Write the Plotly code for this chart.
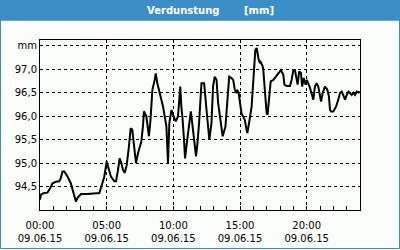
import plotly.graph_objects as go

# data: hours after 09.06.15 00:00 and evaporation values [mm]
hours = [0.00, 0.08, 0.30, 0.56, 0.77, 0.94, 1.19, 1.44, 1.56, 1.69, 1.82, 2.07, 2.31, 2.52, 2.69, 2.82,
         3.07, 3.57, 4.19, 4.45, 4.57, 4.70, 4.82, 5.00, 5.15, 5.32, 5.57, 5.70, 5.85, 5.97, 6.10, 6.22,
         6.35, 6.50, 6.65, 6.80, 6.92, 7.05, 7.20, 7.35, 7.60, 7.72, 7.80, 7.98, 8.17, 8.28, 8.43, 8.60,
         8.68, 8.80, 8.98, 9.23, 9.48, 9.60, 9.70, 9.86, 10.03, 10.18, 10.35, 10.52, 10.60, 10.68, 10.80,
         10.88, 10.98, 11.16, 11.31, 11.40, 11.55, 11.70, 11.81, 11.93, 12.11, 12.31, 12.49, 12.61, 12.70,
         12.86, 12.98, 13.10, 13.24, 13.36, 13.56, 13.70, 13.91, 14.06, 14.19, 14.36, 14.49, 14.61, 14.74,
         14.80, 14.90, 15.11, 15.23, 15.36, 15.49, 15.55, 15.70, 15.87, 16.02, 16.15, 16.25, 16.40, 16.50,
         16.55, 16.70, 16.75, 16.88, 17.00, 17.07, 17.17, 17.30, 17.50, 17.70, 17.95, 18.07, 18.25, 18.33,
         18.50, 18.75, 18.87, 19.00, 19.12, 19.32, 19.44, 19.57, 19.66, 19.78, 19.91, 20.01, 20.25, 20.37,
         20.50, 20.62, 20.75, 20.87, 21.00, 21.08, 21.20, 21.37, 21.55, 21.67, 21.75, 21.83, 22.00, 22.20,
         22.37, 22.50, 22.63, 22.75, 22.88, 23.00, 23.13, 23.25, 23.38, 23.50, 23.63, 23.75, 23.88, 23.98]
values = [94.22, 94.33, 94.36, 94.37, 94.47, 94.57, 94.60, 94.61, 94.68, 94.82, 94.82, 94.71, 94.57, 94.36, 94.18, 94.26,
          94.34, 94.34, 94.36, 94.36, 94.47, 94.61, 94.71, 95.03, 94.90, 94.71, 94.61, 94.61, 94.85, 95.10, 95.00, 94.86,
          94.79, 94.95, 95.30, 95.74, 95.71, 95.43, 95.00, 95.21, 95.46, 95.78, 96.10, 95.99, 95.57, 95.89, 96.56, 96.77,
          96.91, 96.70, 96.49, 96.20, 95.78, 95.00, 95.85, 96.13, 95.99, 95.89, 95.99, 96.63, 96.20, 95.99, 95.50,
          95.10, 95.35, 95.78, 96.10, 95.89, 95.43, 95.14, 95.43, 95.85, 96.70, 96.70, 96.13, 95.71, 95.50,
          95.85, 96.63, 96.84, 96.77, 96.28, 95.78, 95.57, 95.78, 96.35, 96.84, 96.81, 96.77, 96.56, 96.49,
          96.56, 96.49, 96.06, 95.99, 95.92, 95.71, 95.64, 95.89, 96.20, 96.84, 97.41, 97.45, 97.20, 97.13,
          97.15, 97.06, 96.98, 96.49, 96.06, 96.03, 96.35, 96.74, 96.77, 96.84, 96.95, 96.98, 96.88, 96.67,
          96.64, 96.64, 96.77, 96.98, 96.98, 96.67, 96.95, 96.92, 96.63, 96.81, 96.67, 96.77, 96.60, 96.45,
          96.35, 96.63, 96.70, 96.63, 96.42, 96.31, 96.49, 96.63, 96.56, 96.42, 96.13, 96.10, 96.10, 96.20,
          96.35, 96.49, 96.52, 96.42, 96.35, 96.45, 96.52, 96.49, 96.45, 96.50, 96.45, 96.52, 96.50, 96.52]

x_tick_vals = [0, 5, 10, 15, 20]
x_tick_text = ["00:00<br>09.06.15", "05:00<br>09.06.15", "10:00<br>09.06.15",
               "15:00<br>09.06.15", "20:00<br>09.06.15"]
y_tick_vals = [94.5, 95.0, 95.5, 96.0, 96.5, 97.0, 97.5]
y_tick_text = ["94,5", "95,0", "95,5", "96,0", "96,5", "97,0", "mm"]
title_left = "Verdunstung"
title_right = "[mm]"

BLUE = "#3b8ec8"
BG = "#fbfdfb"
W, H = 400, 250
ML, MR, MT, MB = 40, 40, 40, 40
PW, PH = W - ML - MR, H - MT - MB


def px(x):
    return (x - ML) / PW


def py(y):
    return (H - MB - y) / PH


fig = go.Figure(go.Scatter(x=hours, y=values, mode="lines",
                           line=dict(color="black", width=2), hoverinfo="skip"))

fig.update_layout(
    width=W, height=H, margin=dict(l=ML, r=MR, t=MT, b=MB, autoexpand=False),
    paper_bgcolor=BG, plot_bgcolor=BG, showlegend=False,
    font=dict(family="DejaVu Sans", size=10, color="black"),
    shapes=[
        dict(type="rect", xref="paper", yref="paper", x0=px(0), x1=px(W), y0=py(20.5), y1=py(0),
             fillcolor=BLUE, line=dict(width=0), layer="above"),
        dict(type="rect", xref="paper", yref="paper", x0=px(0.5), x1=px(399.5), y0=py(248.5), y1=py(20),
             fillcolor="rgba(0,0,0,0)", line=dict(color=BLUE, width=1), layer="above"),
    ],
    annotations=[
        dict(text="<b>" + title_left + "</b>", xref="paper", yref="paper", x=px(182.5), y=py(10.5),
             showarrow=False, font=dict(color="white", size=10, family="DejaVu Sans"),
             xanchor="center", yanchor="middle"),
        dict(text="<b>" + title_right + "</b>", xref="paper", yref="paper", x=px(258.5), y=py(10.5),
             showarrow=False, font=dict(color="white", size=10, family="DejaVu Sans"),
             xanchor="center", yanchor="middle"),
    ],
)

fig.update_xaxes(range=[0, 24], tickvals=x_tick_vals, ticktext=x_tick_text, automargin=False,
                 ticks="inside", ticklen=4, tickcolor="black", tickwidth=1, ticklabelstandoff=6,
                 minor=dict(dtick=1, tick0=0, ticks="inside", ticklen=4, tickcolor="black", showgrid=False),
                 showgrid=True, gridcolor="black", gridwidth=1, griddash="3px,3px",
                 showline=True, linecolor="black", linewidth=1, mirror=True,
                 zeroline=False, fixedrange=True)
fig.update_yaxes(range=[94.0, 97.62], tickvals=y_tick_vals, ticktext=y_tick_text, automargin=False,
                 ticks="", showgrid=True, gridcolor="black", gridwidth=1, griddash="3px,3px",
                 showline=True, linecolor="black", linewidth=1, mirror=True,
                 zeroline=False, fixedrange=True)

fig.write_html("out.html", config={"displayModeBar": False})
